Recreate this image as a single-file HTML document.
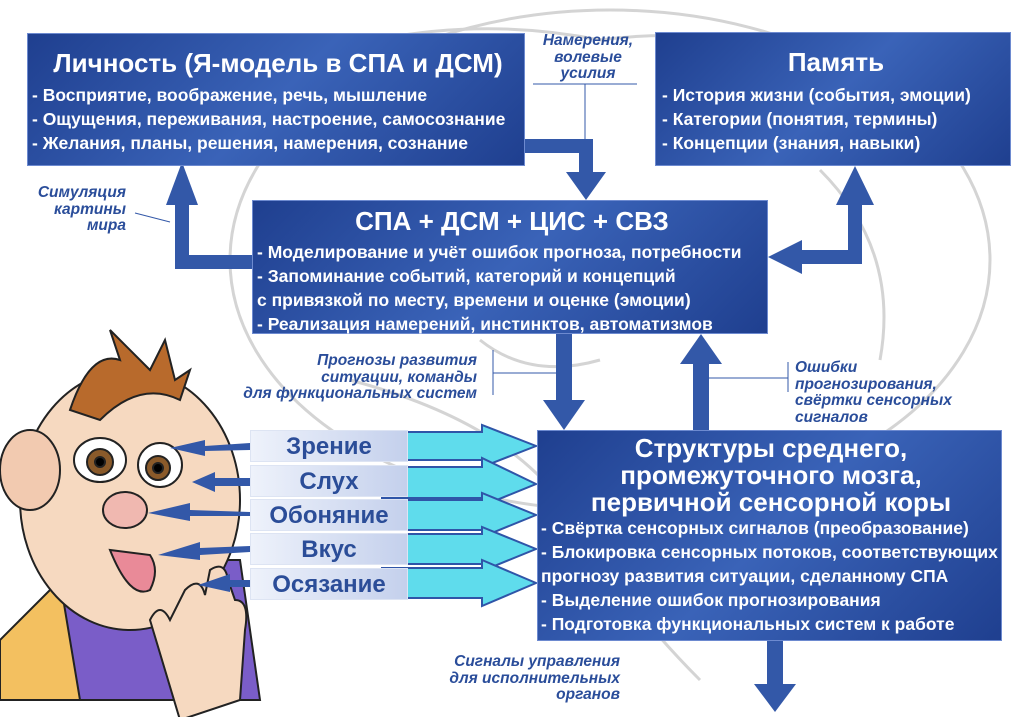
<!DOCTYPE html>
<html><head><meta charset="utf-8"><style>
body{margin:0;width:1024px;height:717px;background:#fff;position:relative;overflow:hidden;font-family:"Liberation Sans","DejaVu Sans",sans-serif}
.box{position:absolute;background:linear-gradient(135deg,#1f3f8f,#3a63b8 50%,#1f3f8f);color:#fff;box-sizing:border-box;font-weight:bold;border:1px solid #6d8ad0}
.box h1{margin:0;font-size:26px;text-align:center;font-weight:bold}
.box p{margin:0;font-size:17.5px;line-height:24px;white-space:nowrap}
.lab{position:absolute;color:#2a4d9a;font-style:italic;font-weight:bold;font-size:15.5px;line-height:16.5px;text-align:right;white-space:nowrap}
.s{position:absolute;left:250px;width:158px;height:32px;background:linear-gradient(90deg,#eef2fb,#c4d0ec);color:#2b4d98;font-weight:bold;font-size:24px;text-align:center;line-height:32px;border:1px solid #dde4f3;box-sizing:border-box}
</style></head><body>
<svg width="1024" height="717" style="position:absolute;left:0;top:0">
<g fill="none" stroke="#d4d4d4" stroke-width="3">
<ellipse cx="610" cy="260" rx="380" ry="250"/>
<path d="M300 60 Q450 10 600 40 Q750 20 900 90"/>
<path d="M350 380 Q500 420 560 500 Q620 600 700 680"/>
<path d="M820 170 Q900 250 880 360"/>
<path d="M480 340 Q530 380 600 360"/>
</g>
<g stroke="#222" stroke-width="2">
<path d="M60 700 L20 620 L100 560 L240 560 L260 700 Z" fill="#7a5dc8"/>
<path d="M0 640 L60 580 L80 700 L0 700Z" fill="#f3c060"/>
<ellipse cx="130" cy="500" rx="110" ry="130" fill="#f6d9c0"/>
<ellipse cx="30" cy="470" rx="30" ry="40" fill="#f2cab0"/>
<path d="M70 410 Q90 350 120 360 L110 330 L150 370 L165 340 L175 380 L190 370 L180 400 Q140 380 100 420Z" fill="#b86a2c"/>
<ellipse cx="100" cy="460" rx="26" ry="22" fill="#fff"/><circle cx="100" cy="462" r="13" fill="#8a5a2a"/><circle cx="100" cy="462" r="5" fill="#000"/>
<ellipse cx="160" cy="465" rx="22" ry="22" fill="#fff"/><circle cx="158" cy="468" r="12" fill="#8a5a2a"/><circle cx="158" cy="468" r="5" fill="#000"/>
<ellipse cx="125" cy="510" rx="22" ry="18" fill="#f0b8b0"/>
<path d="M110 550 Q130 600 150 590 Q160 570 150 555Z" fill="#e98a98"/>
<path d="M180 720 L150 620 Q160 600 170 620 L185 590 Q200 575 205 595 L210 570 Q225 560 228 580 L235 600 Q250 600 245 630 L240 700 Z" fill="#f6d9c0"/>
</g>
<g fill="#3358a8">
<rect x="175" y="198" width="14" height="70"/><rect x="175" y="255" width="77" height="14"/>
<polygon points="166,205 198,205 182,162"/>
<rect x="525" y="139" width="68" height="14"/><rect x="579" y="139" width="14" height="35"/>
<polygon points="566,172 606,172 586,200"/>
<rect x="848" y="200" width="14" height="64"/><rect x="800" y="250" width="62" height="14"/>
<polygon points="836,205 874,205 855,166"/>
<polygon points="802,240 802,274 768,257"/>
<rect x="556" y="334" width="16" height="70"/><polygon points="543,400 585,400 564,430"/>
<rect x="693" y="362" width="16" height="68"/><polygon points="680,364 722,364 701,334"/>
<rect x="767" y="641" width="16" height="45"/><polygon points="754,684 796,684 775,712"/>
<polygon points="250,443 205,446 205,440 170,448 205,456 205,451 250,450"/>
<polygon points="250,478 215,478 215,472 192,482 215,492 215,486 250,486"/>
<polygon points="250,512 190,510 190,503 148,513 190,521 190,516 250,516"/>
<polygon points="250,546 200,548 200,542 158,555 200,560 200,555 250,552"/>
<polygon points="250,580 230,580 230,574 198,585 230,592 230,587 250,587"/>
</g>
<g fill="#5fdcec" stroke="#2f55a8" stroke-width="2">
<polygon points="382,432 482,432 482,425 536,446 482,467 482,460 382,460"/>
<polygon points="382,467 482,467 482,458 536,484 482,506 482,498 382,498"/>
<polygon points="382,500 482,500 482,493 536,515 482,537 482,530 382,530"/>
<polygon points="382,534 482,534 482,527 536,549 482,571 482,564 382,564"/>
<polygon points="382,568 482,568 482,560 536,583 482,606 482,598 382,598"/>
</g>
<g stroke="#3358a8" stroke-width="1" fill="none">
<line x1="533" y1="84" x2="637" y2="84"/><line x1="585" y1="84" x2="585" y2="139"/>
<line x1="135" y1="213" x2="170" y2="222"/>
<line x1="493" y1="350" x2="493" y2="395"/><line x1="493" y1="373" x2="556" y2="373"/>
<line x1="788" y1="362" x2="788" y2="392"/><line x1="709" y1="378" x2="788" y2="378"/>
</g>
</svg>
<div class="box" style="left:27px;top:33px;width:498px;height:133px;padding:14px 0 0 4px">
<h1 style="margin-bottom:4px">Личность (Я-модель в СПА и ДСМ)</h1>
<p>- Восприятие, воображение, речь, мышление</p>
<p>- Ощущения, переживания, настроение, самосознание</p>
<p>- Желания, планы, решения, намерения, сознание</p></div>
<div class="box" style="left:655px;top:32px;width:356px;height:134px;padding:14px 0 0 6px">
<h1 style="margin-bottom:5px">Память</h1>
<p>- История жизни (события, эмоции)</p>
<p>- Категории (понятия, термины)</p>
<p>- Концепции (знания, навыки)</p></div>
<div class="box" style="left:252px;top:200px;width:516px;height:134px;padding:5px 0 0 4px">
<h1 style="margin-bottom:3px">СПА + ДСМ + ЦИС + СВЗ</h1>
<p>- Моделирование и учёт ошибок прогноза, потребности</p>
<p>- Запоминание событий, категорий и концепций</p>
<p>с привязкой по месту, времени и оценке (эмоции)</p>
<p>- Реализация намерений, инстинктов, автоматизмов</p></div>
<div class="box" style="left:537px;top:430px;width:465px;height:211px;padding:4px 0 0 3px">
<h1 style="line-height:27px;margin-bottom:0">Структуры среднего,<br>промежуточного мозга,<br>первичной сенсорной коры</h1>
<p>- Свёртка сенсорных сигналов (преобразование)</p>
<p>- Блокировка сенсорных потоков, соответствующих</p>
<p>прогнозу развития ситуации, сделанному СПА</p>
<p>- Выделение ошибок прогнозирования</p>
<p>- Подготовка функциональных систем к работе</p></div>
<div class="lab" style="left:530px;top:33px;width:116px;text-align:center">Намерения,<br>волевые<br>усилия</div>
<div class="lab" style="left:20px;top:185px;width:106px">Симуляция<br>картины<br>мира</div>
<div class="lab" style="left:150px;top:353px;width:327px">Прогнозы развития<br>ситуации, команды<br>для функциональных систем</div>
<div class="lab" style="left:795px;top:360px;width:180px;text-align:left">Ошибки<br>прогнозирования,<br>свёртки сенсорных<br>сигналов</div>
<div class="lab" style="left:370px;top:654px;width:250px">Сигналы управления<br>для исполнительных<br>органов</div>
<div class="s" style="top:430px">Зрение</div>
<div class="s" style="top:465px">Слух</div>
<div class="s" style="top:499px">Обоняние</div>
<div class="s" style="top:533px">Вкус</div>
<div class="s" style="top:568px">Осязание</div>
</body></html>
